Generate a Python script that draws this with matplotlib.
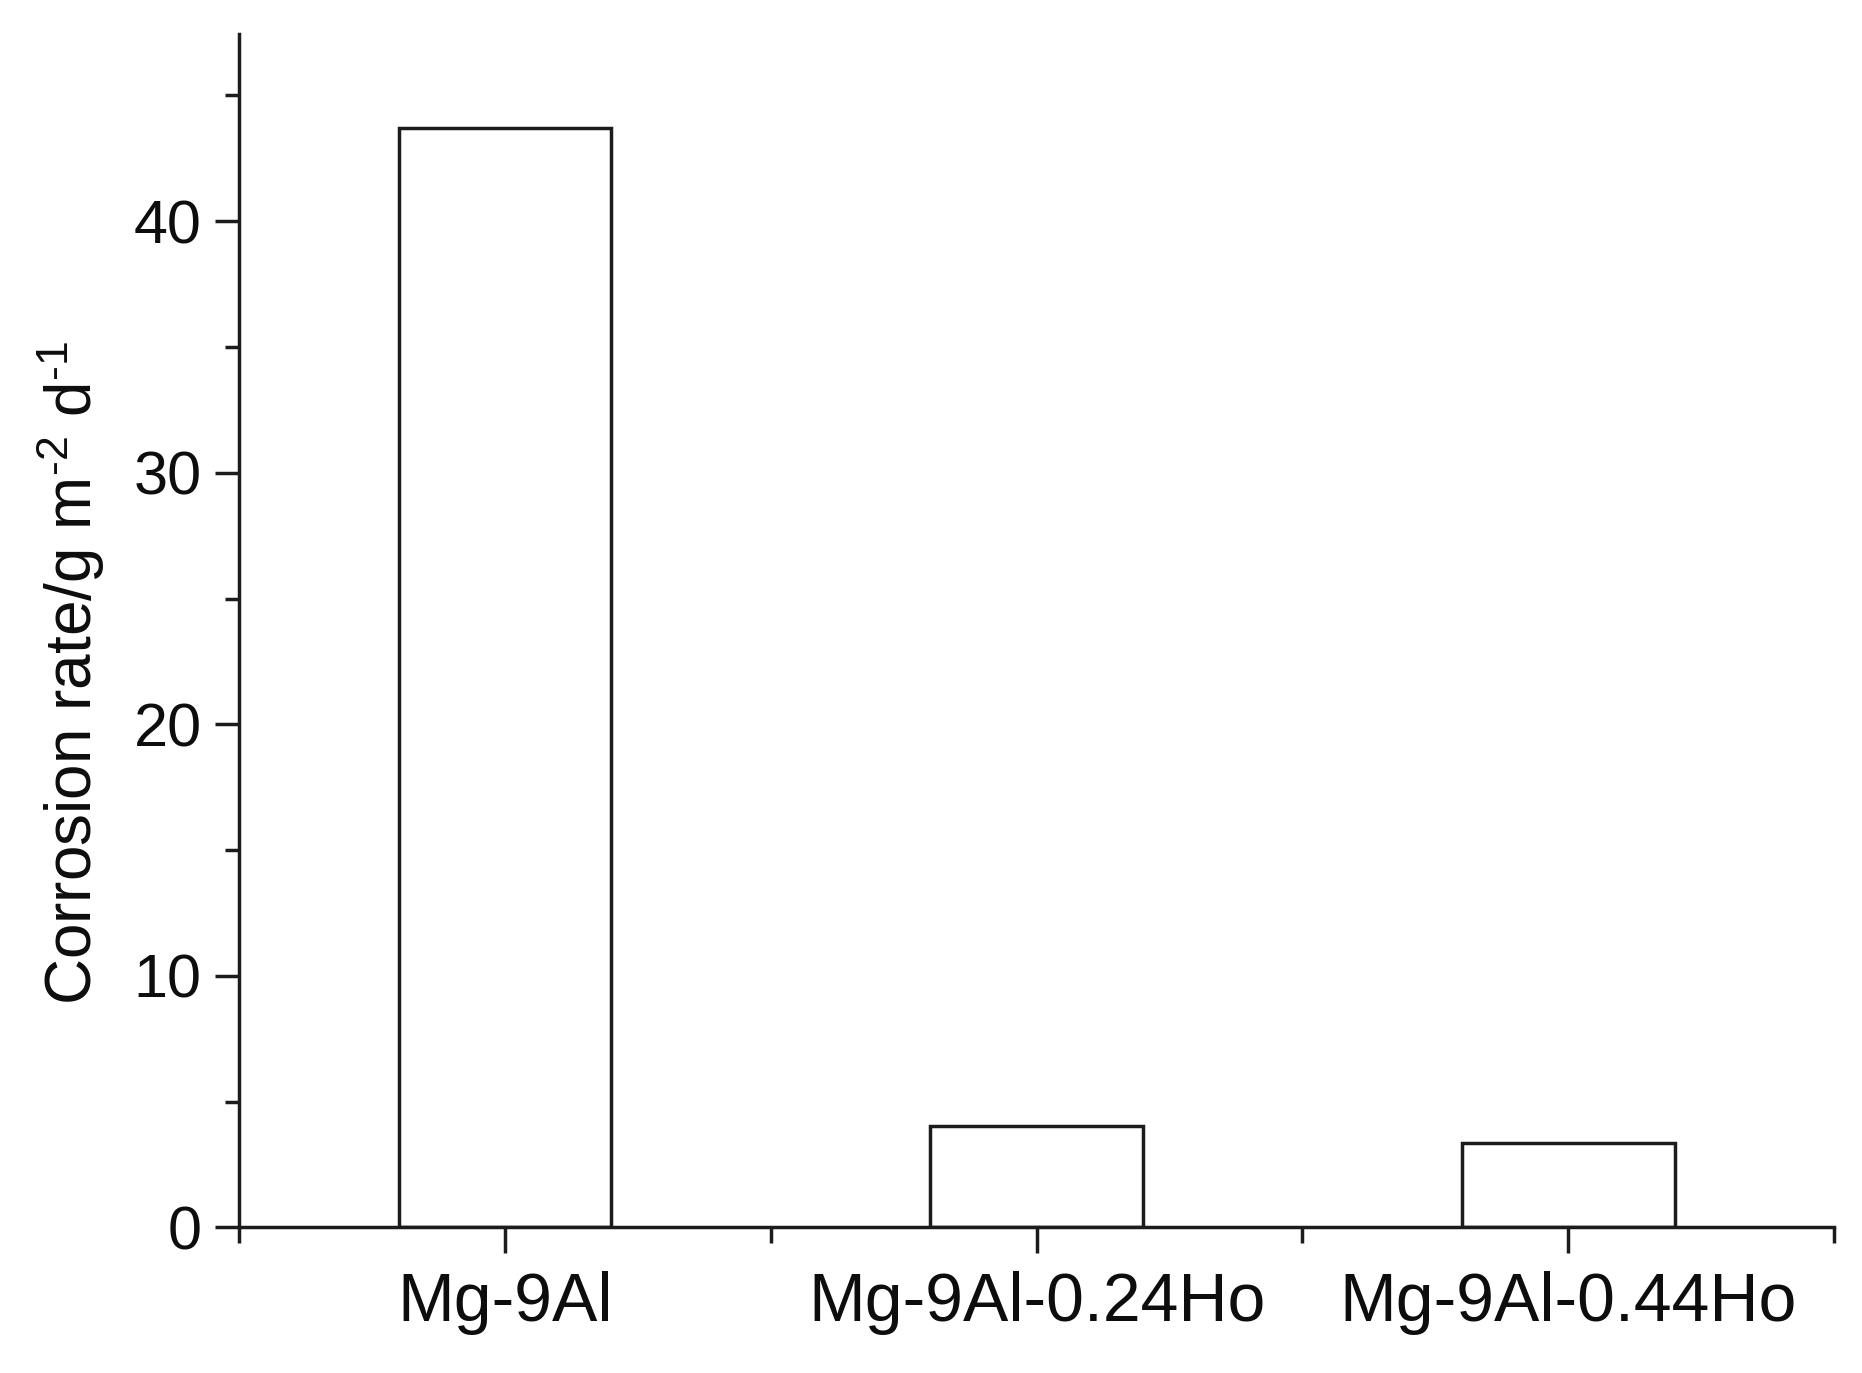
import matplotlib
matplotlib.use("Agg")
import matplotlib.pyplot as plt
from matplotlib.ticker import MultipleLocator, FixedLocator

plt.rcParams['font.family'] = ['Liberation Sans', 'DejaVu Sans']
plt.rcParams['mathtext.fontset'] = 'custom'
plt.rcParams['mathtext.rm'] = 'Liberation Sans'
plt.rcParams['mathtext.it'] = 'Liberation Sans'

# data
alloys = ['Mg-9Al', 'Mg-9Al-0.24Ho', 'Mg-9Al-0.44Ho']
corrosion_rate = [43.7, 4.05, 3.35]

line_col = '#1c1c1c'
text_col = '#0d0d0d'
lw = 2.5

fig = plt.figure(figsize=(18.62, 13.73), dpi=100)
ax = fig.add_axes([0.1284, 0.1060, 0.8566, 0.8692])

xpos = list(range(1, len(alloys) + 1))
ax.bar(xpos, corrosion_rate, width=0.4, facecolor='white',
       edgecolor=line_col, linewidth=lw)

ax.set_xlim(0.5, 3.5)
ax.set_ylim(0, 47.44)

ax.spines['top'].set_visible(False)
ax.spines['right'].set_visible(False)
for s in ('left', 'bottom'):
    ax.spines[s].set_linewidth(lw)
    ax.spines[s].set_color(line_col)

ax.set_xticks(xpos)
ax.set_xticklabels(alloys)
ax.xaxis.set_minor_locator(FixedLocator([0.5, 1.5, 2.5, 3.5]))
ax.yaxis.set_major_locator(MultipleLocator(10))
ax.yaxis.set_minor_locator(MultipleLocator(5))

ax.tick_params(axis='x', which='major', direction='out', length=19, width=lw,
               color=line_col, labelsize=49, labelcolor=text_col, pad=12)
ax.tick_params(axis='x', which='minor', direction='out', length=11.5, width=lw,
               color=line_col)
ax.tick_params(axis='y', which='major', direction='out', length=17, width=lw,
               color=line_col, labelsize=44, labelcolor=text_col, pad=10)
ax.tick_params(axis='y', which='minor', direction='out', length=10, width=lw,
               color=line_col)

ax.set_ylabel(r'Corrosion rate/g m$^{\text{-2}}$ d$^{\text{-1}}$',
              fontsize=46, color=text_col)
ax.yaxis.set_label_coords(-0.083, 0.465)

fig.savefig('out.png', dpi=100, facecolor='white')
